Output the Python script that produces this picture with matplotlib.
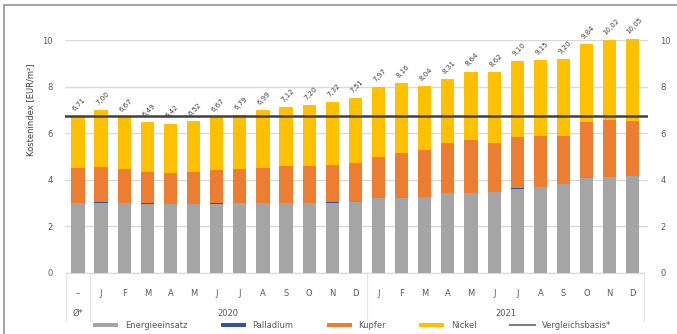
import numpy as np
import matplotlib.pyplot as plt
from matplotlib.patches import Rectangle
from matplotlib.lines import Line2D

# Kostenindex je Monat, Bestandteile in EUR/m²
monate = ["–", "J", "F", "M", "A", "M", "J", "J", "A", "S", "O", "N", "D",
          "J", "F", "M", "A", "M", "J", "J", "A", "S", "O", "N", "D"]
gruppen = ["Ø*", "2020", "2021"]
energie = [3.00, 3.02, 3.00, 2.98, 2.96, 2.96, 2.98, 3.00, 3.00, 3.00, 3.00, 3.02, 3.04,
           3.20, 3.22, 3.24, 3.44, 3.44, 3.46, 3.62, 3.68, 3.80, 4.08, 4.12, 4.14]
palladium = [0.005] * 25
kupfer = [1.51, 1.52, 1.47, 1.33, 1.31, 1.37, 1.43, 1.47, 1.51, 1.57, 1.59, 1.63, 1.67,
          1.79, 1.92, 2.03, 2.13, 2.25, 2.13, 2.22, 2.19, 2.07, 2.39, 2.44, 2.40]
nickel = [2.20, 2.45, 2.20, 2.18, 2.14, 2.18, 2.26, 2.32, 2.48, 2.54, 2.60, 2.67, 2.80,
          2.98, 3.02, 2.76, 2.74, 2.95, 3.02, 3.25, 3.28, 3.32, 3.37, 3.45, 3.51]
vergleichsbasis = 6.72

fig = plt.figure(figsize=(6.77, 3.34), dpi=100)
ax = fig.add_axes([0.096, 0.183, 0.861, 0.697])

x = np.arange(len(monate))
w = 0.57
b = np.zeros(len(x))
serien = [(energie, "#A5A5A5", "Energieeinsatz"),
          (palladium, "#2F55A0", "Palladium"),
          (kupfer, "#ED7D31", "Kupfer"),
          (nickel, "#FFC000", "Nickel")]
for vals, col, lab in serien:
    ax.bar(x, vals, w, bottom=b, color=col, label=lab, zorder=2, clip_on=False)
    b = b + np.array(vals)

ax.axhline(vergleichsbasis, color="#404040", lw=1.8, zorder=3)

for xi, tot in zip(x, b):
    ax.annotate(("%.2f" % tot).replace(".", ","), (xi, tot), xytext=(1, 3),
                textcoords="offset points", rotation=45, ha="center", va="bottom",
                fontsize=5, color="#404040", annotation_clip=False)

ax.set_ylim(0, 10)
ax.set_xlim(-0.56, 24.65)
ax.set_yticks(range(0, 11, 2))
ax.yaxis.grid(True, color="#D9D9D9", lw=1, zorder=0)
ax.tick_params(axis="y", length=0, labelsize=6, colors="#595959", pad=9,
               labelright=True, right=False)
ax.set_xticks([])
for s in ax.spines.values():
    s.set_visible(False)

# zweistufige Kategorienachse
for xi, m in zip(x, monate):
    ax.text(xi, -0.9, m, ha="center", va="center", fontsize=6, color="#595959")
ax.text(0, -1.75, gruppen[0], ha="center", va="center", fontsize=6, color="#595959")
ax.text(6.5, -1.75, gruppen[1], ha="center", va="center", fontsize=6, color="#595959")
ax.text(18.5, -1.75, gruppen[2], ha="center", va="center", fontsize=6, color="#595959")
for xs in [-0.5, 0.5, 12.5, 24.5]:
    ax.plot([xs, xs], [0, -2.05], color="#E3E3E3", lw=0.8, clip_on=False)
ax.plot([-0.5, 24.5], [0, 0], color="#D9D9D9", lw=0.8, clip_on=False)

fig.text(0.045, 0.67, "Kostenindex [EUR/m²]", rotation=90, ha="center", va="center",
         fontsize=6, color="#404040")

h, l = ax.get_legend_handles_labels()
h.append(Line2D([], [], color="#808080", lw=1.5))
l.append("Vergleichsbasis*")
fig.legend(h, l, loc="lower center", bbox_to_anchor=(0.52, -0.01), ncol=5,
           frameon=False, fontsize=6, handlelength=3, handleheight=0.5,
           columnspacing=4, labelcolor="#595959")

fig.patches.append(Rectangle((4 / 677, -0.1), 1.2, 1.1 - 5 / 334,
                             transform=fig.transFigure, fill=False,
                             edgecolor="#A6A6A6", lw=1.5))

plt.savefig("out.png", dpi=100)
